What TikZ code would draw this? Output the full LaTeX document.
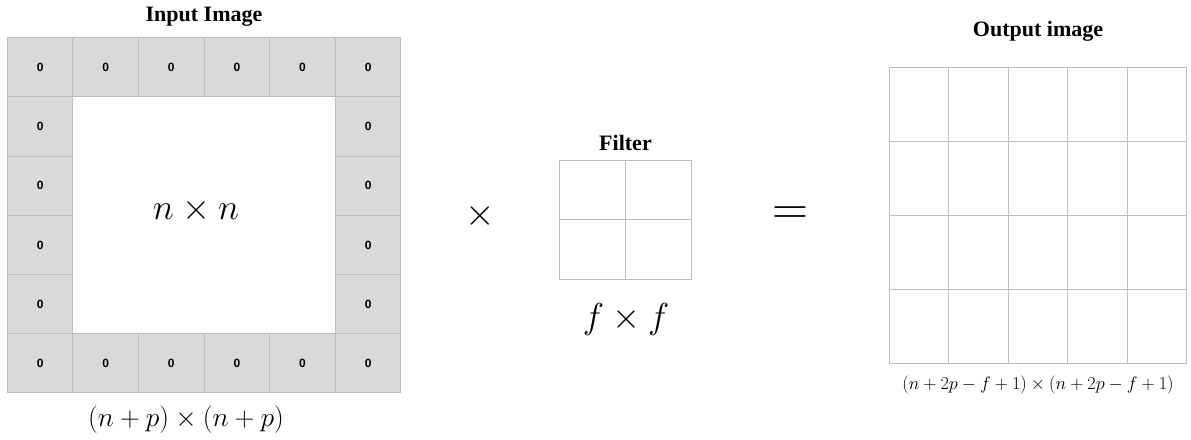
\RequirePackage{fix-cm}
\documentclass[tikz,border=0pt]{standalone}
\usepackage{fontspec}
\setmainfont{Liberation Serif}
\newfontfamily\zerofont{Liberation Sans}
\definecolor{gridline}{HTML}{BFBFBF}
\definecolor{padfill}{HTML}{D9D9D9}
\begin{document}
\begin{tikzpicture}[x=1pt,y=-1pt,
  title/.style={font=\fontsize{22}{26}\selectfont\bfseries, inner sep=0pt},
  padcell/.style={draw=gridline, fill=padfill, line width=1pt, minimum width=65.6pt, minimum height=59.2pt, inner sep=0pt, font=\zerofont\fontsize{12}{14}\selectfont\bfseries},
  fcell/.style={draw=gridline, fill=white, line width=1pt, minimum width=66.2pt, minimum height=59.5pt, inner sep=0pt},
  ocell/.style={draw=gridline, fill=white, line width=1pt, minimum width=59.5pt, minimum height=74pt, inner sep=0pt},
  mathlbl/.style={inner sep=0pt, anchor=base}]
\useasboundingbox (0,0) rectangle (1191,439);
\fill[white] (0,0) rectangle (1191,439);

% input image with padding
\foreach \i in {0,...,5}{
  \foreach \j in {0,...,5}{
    \ifnum\i=0 \node[padcell] (c-\i-\j) at ({7.3+65.6*(\i+0.5)},{37.7+59.2*(\j+0.5)}) {0};\else
    \ifnum\i=5 \node[padcell] (c-\i-\j) at ({7.3+65.6*(\i+0.5)},{37.7+59.2*(\j+0.5)}) {0};\else
    \ifnum\j=0 \node[padcell] (c-\i-\j) at ({7.3+65.6*(\i+0.5)},{37.7+59.2*(\j+0.5)}) {0};\else
    \ifnum\j=5 \node[padcell] (c-\i-\j) at ({7.3+65.6*(\i+0.5)},{37.7+59.2*(\j+0.5)}) {0};\fi\fi\fi\fi
  }
}
\node[title] (intitle) at (204,17) {Input Image};
\node[mathlbl, font=\fontsize{36}{42}\selectfont] (nn) at (196,219) {$n\times n$};
\node[mathlbl, font=\fontsize{27.5}{33}\selectfont] (inlbl) at (186,426) {$(n+p)\times(n+p)$};

% operator
\node[inner sep=0pt, font=\fontsize{38}{44}\selectfont] (times) at (480.5,216) {$\times$};

% filter
\foreach \i in {0,1}{
  \foreach \j in {0,1}{
    \node[fcell] (f-\i-\j) at ({559.3+66.2*(\i+0.5)},{160+59.5*(\j+0.5)}) {};
  }
}
\node[title] (ftitle) at (625.5,143) {Filter};
\node[mathlbl, font=\fontsize{36}{42}\selectfont] (flbl) at (626,328) {$f\times f$};

% equals
\node[inner sep=0pt, font=\fontsize{50}{56}\selectfont] (eq) at (790,215.3) {$=$};

% output
\foreach \i in {0,...,4}{
  \foreach \j in {0,...,3}{
    \node[ocell] (o-\i-\j) at ({889+59.5*(\i+0.5)},{67.3+74*(\j+0.5)}) {};
  }
}
\node[title] (otitle) at (1038,31) {Output image};
\node[mathlbl, font=\fontsize{18.2}{22}\selectfont] (olbl) at (1038,389.5) {$(n+2p-f+1)\times(n+2p-f+1)$};
\end{tikzpicture}
\end{document}
